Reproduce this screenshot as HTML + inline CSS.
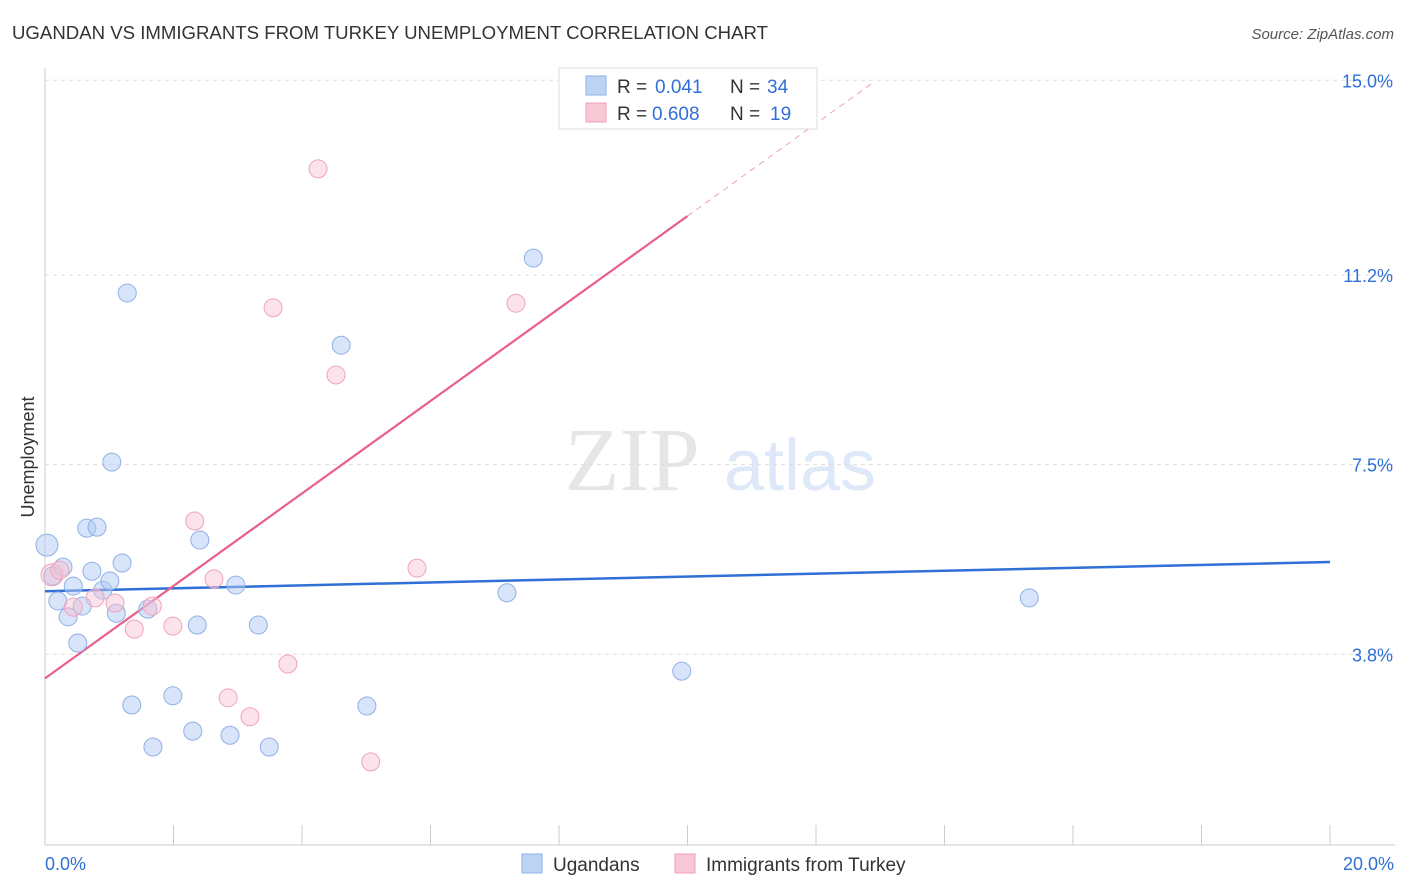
<!DOCTYPE html>
<html><head><meta charset="utf-8"><style>
body{margin:0;background:#fff;font-family:"Liberation Sans",sans-serif}
svg{display:block}
</style></head><body>
<svg id="chart" width="1406" height="892">
<text x="12" y="39" font-size="18" fill="#333" textLength="756" lengthAdjust="spacingAndGlyphs">UGANDAN VS IMMIGRANTS FROM TURKEY UNEMPLOYMENT CORRELATION CHART</text>
<text x="1394" y="39" font-size="15" fill="#555" font-style="italic" text-anchor="end">Source: ZipAtlas.com</text>
<text x="34" y="457" font-size="18" fill="#333" text-anchor="middle" transform="rotate(-90 34 457)">Unemployment</text>
<g><text x="632" y="490" font-size="90" fill="#e6e6e6" font-family="Liberation Serif,serif" text-anchor="middle">ZIP</text><text x="800" y="490" font-size="72" fill="#dde8f8" text-anchor="middle">atlas</text></g>
<g id="grid"></g><g id="lines"></g><g id="pts"></g>
<g>
<rect x="559" y="68" width="258" height="61" fill="#fff" stroke="#ddd"/>
<rect x="586" y="76" width="20" height="19" fill="#bcd3f5" stroke="#8fb0e8"/>
<text x="617" y="93" font-size="19" fill="#333">R = </text><text x="655" y="93" font-size="19" fill="#2f6fd6">0.041</text>
<text x="730" y="93" font-size="19" fill="#333">N = </text><text x="767" y="93" font-size="19" fill="#2f6fd6">34</text>
<rect x="586" y="103" width="20" height="19" fill="#f8c8d6" stroke="#f0a0b8"/>
<text x="617" y="120" font-size="19" fill="#333">R = </text><text x="652" y="120" font-size="19" fill="#2f6fd6">0.608</text>
<text x="730" y="120" font-size="19" fill="#333">N = </text><text x="770" y="120" font-size="19" fill="#2f6fd6">19</text>
</g>
<g>
<rect x="522" y="854" width="20" height="19" fill="#bcd3f5" stroke="#8fb0e8"/>
<text x="553" y="871" font-size="19" fill="#333">Ugandans</text>
<rect x="675" y="854" width="20" height="19" fill="#f8c8d6" stroke="#f0a0b8"/>
<text x="706" y="871" font-size="19" fill="#333">Immigrants from Turkey</text>
</g>
</svg>
<script>
const xTickLabels=["0.0%","20.0%"];
const yTicks=[3.8,7.5,11.2,15.0];
const yTickLabels=["3.8%","7.5%","11.2%","15.0%"];
const blueX=[0.03,0.12,0.28,0.20,0.36,0.44,0.51,0.58,0.65,0.73,0.81,0.90,1.01,1.04,1.11,1.20,1.28,1.35,1.60,1.68,1.99,2.30,2.37,2.41,2.88,2.97,3.32,3.49,4.61,5.01,7.19,7.60,9.91,15.32];
const blueY=[5.93,5.33,5.50,4.84,4.53,5.13,4.02,4.74,6.26,5.42,6.28,5.05,5.23,7.55,4.60,5.58,10.85,2.81,4.68,1.99,2.99,2.30,4.37,6.03,2.22,5.15,4.37,1.99,9.83,2.79,5.00,11.53,3.47,4.90];
const pinkX=[0.11,0.23,0.44,0.78,1.09,1.39,1.67,1.99,2.33,2.63,2.85,3.19,3.55,3.78,4.25,4.53,5.07,5.79,7.33];
const pinkY=[5.35,5.44,4.72,4.90,4.80,4.29,4.74,4.35,6.40,5.27,2.95,2.58,10.56,3.61,13.27,9.25,1.70,5.48,10.65];
const blueLine=[5.03,5.60];
const pinkIntercept=3.33, pinkSlope=0.902;
const NS="http://www.w3.org/2000/svg";
const sx=v=>45+v*64.25, sy=v=>849-v*51.25;
function mk(t,a,p){const e=document.createElementNS(NS,t);for(const k in a)e.setAttribute(k,a[k]);document.getElementById(p).appendChild(e);return e;}
yTicks.forEach((t,i)=>{
 const l=mk('line',{x1:45,x2:1395,y1:sy(t),y2:sy(t),stroke:'#ddd','stroke-dasharray':'4,4'},'grid');
 
 
 const tx=mk('text',{x:1393,y:sy(t)+7,'font-size':18,fill:'#2f6fd6','text-anchor':'end'},'grid');tx.textContent=yTickLabels[i];
 
 
});
mk('line',{x1:45,x2:45,y1:68,y2:845,stroke:'#ccc'},'grid');
mk('line',{x1:45,x2:1395,y1:845,y2:845,stroke:'#ccc'},'grid');
for(let i=0;i<=10;i++){const t=mk('line',{x1:sx(i*2),x2:sx(i*2),y1:825,y2:845,stroke:'#ccc'},'grid');
 
 }
[[0,'start',45],[20,'end',1394]].forEach((d,i)=>{const t=mk('text',{x:d[2],y:870,'font-size':18,fill:'#2f6fd6','text-anchor':d[1]},'grid');t.textContent=xTickLabels[i];
 
 });
function pts(X,Y,f,s,name,bigIdx){X.forEach((x,i)=>{const c=mk('circle',{cx:sx(x),cy:sy(Y[i]),r:i===bigIdx?11:9,fill:f,stroke:s,'stroke-width':1},'pts');
 
 });}
pts(blueX,blueY,'rgba(176,202,244,0.5)','#90b0e6','ugandan-point',0);
pts(pinkX,pinkY,'rgba(248,190,208,0.45)','#f0a4bc','turkey-point',0);
const bl=mk('line',{x1:sx(0),y1:sy(blueLine[0]),x2:sx(20),y2:sy(blueLine[1]),stroke:'#2f6fd6','stroke-width':2.5},'lines');


const pl=mk('line',{x1:sx(0),y1:sy(pinkIntercept),x2:sx(10),y2:sy(pinkIntercept+pinkSlope*10),stroke:'#e8608a','stroke-width':2.2},'lines');


const pd=mk('line',{x1:sx(10),y1:sy(pinkIntercept+pinkSlope*10),x2:sx(12.92),y2:sy(pinkIntercept+pinkSlope*12.92),stroke:'#eba0b8','stroke-width':1,'stroke-dasharray':'6,5'},'lines');


</script>
</body></html>
